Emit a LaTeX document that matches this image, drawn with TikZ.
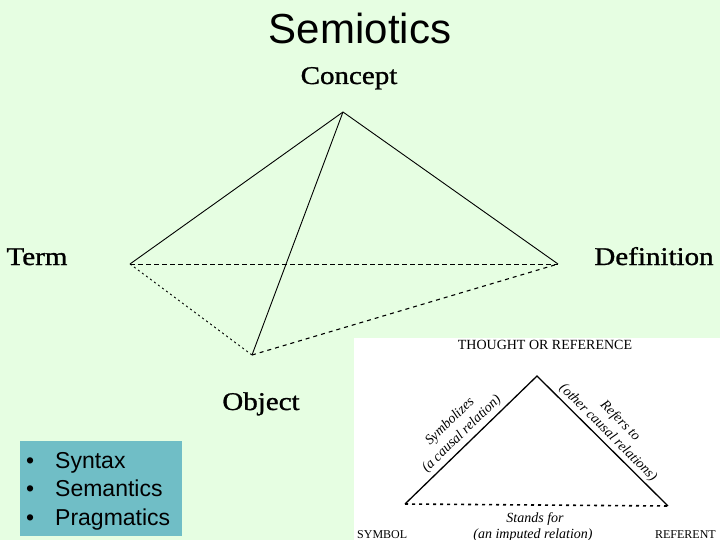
\documentclass[tikz,border=0pt]{standalone}
\usepackage{fontspec}
\setmainfont{Liberation Serif}
\newfontfamily\arialf{Liberation Sans}
\newfontfamily\vfont[FakeBold=1]{Liberation Serif}
\usepackage{graphicx}
\definecolor{bgreen}{RGB}{230,254,226}
\definecolor{bulletbg}{RGB}{112,190,198}
\newcommand{\sq}[1]{\scalebox{1}[0.88]{#1}}
\begin{document}
\begin{tikzpicture}[x=1pt,y=-1pt,
  vlabel/.style={font=\vfont\fontsize{29}{34}\selectfont, inner sep=0pt, anchor=base},
  edge/.style={line width=0.9pt, black},
  insettext/.style={font=\fontsize{14}{16}\selectfont, inner sep=0pt},
  insetital/.style={font=\itshape\fontsize{14}{17}\selectfont, inner sep=0pt, align=center},
  bulletword/.style={font=\arialf\fontsize{23}{27}\selectfont, inner sep=0pt, anchor=base west},
  tri/.style={line width=1.3pt, black}]
\useasboundingbox (0,0) rectangle (720,540);
\fill[bgreen] (0,0) rectangle (720,540);

% title
\node[font=\arialf\fontsize{42}{50}\selectfont, inner sep=0pt, anchor=base] (title) at (360,44) {Semiotics};

% tetrahedron
\coordinate (C) at (343,112);
\coordinate (T) at (130,264);
\coordinate (D) at (558,264);
\coordinate (O) at (252,355);
\node[vlabel] (concept) at (349,84) {\sq{Concept}};
\node[vlabel] (term) at (37,265) {\sq{Term}};
\node[vlabel] (definition) at (654,265) {\sq{Definition}};
\node[vlabel] (object) at (261,410) {\sq{Object}};

\draw[edge] (C) -- (T);
\draw[edge] (C) -- (D);
\draw[edge] (C) -- (O);
\draw[edge, dash pattern=on 5pt off 3pt] (T) -- (D);
\draw[edge, dash pattern=on 2pt off 3pt] (T) -- (O);
\draw[edge, line width=1.1pt, dash pattern=on 4pt off 4pt] (O) -- (D);

% bullet box
\node[fill=bulletbg, inner sep=0pt, anchor=north west, minimum width=162pt, minimum height=95pt] (box) at (20,441) {};
\node[bulletword] (b1) at (26,468) {•};
\node[bulletword] (b2) at (26,496) {•};
\node[bulletword] (b3) at (26,525) {•};
\node[bulletword] (w1) at (55,468) {Syntax};
\node[bulletword] (w2) at (55,496) {Semantics};
\node[bulletword] (w3) at (55,525) {Pragmatics};

% inset
\node[fill=white, inner sep=0pt, anchor=north west, minimum width=366pt, minimum height=202pt] (inset) at (354,338) {};
\coordinate (A) at (537,376);
\coordinate (S) at (405,504);
\coordinate (R) at (668,506);
\draw[tri] (S) -- (A) -- (R);
\draw[tri, line width=1.6pt, dash pattern=on 3pt off 4pt] (S) -- (R);
\node[insettext] (thought) at (545,345) {THOUGHT OR REFERENCE};
\node[insettext, font=\fontsize{12}{14}\selectfont, anchor=base west] (symbol) at (357,538) {SYMBOL};
\node[insettext, font=\fontsize{12}{14}\selectfont, anchor=base east] (referent) at (716,538) {REFERENT};
\node[insetital] (stands) at (535,519) {Stands for};
\node[insetital] (imputed) at (533,535) {(an imputed relation)};
\node[insetital, rotate=44] (symb) at (456,428) {Symbolizes\\(a causal relation)};
\node[insetital, rotate=-45] (refers) at (614,427) {Refers to\\(other causal relations)};
\end{tikzpicture}
\end{document}
